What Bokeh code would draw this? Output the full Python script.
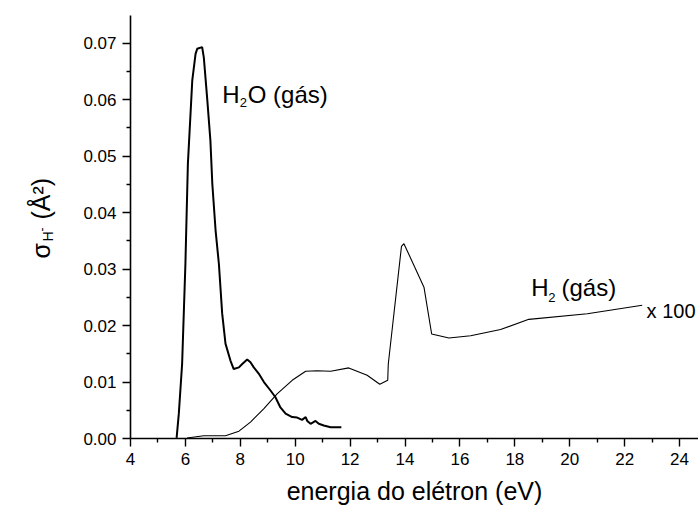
from bokeh.plotting import figure
from bokeh.layouts import row
from bokeh.models import Range1d, Label, PrintfTickFormatter, FixedTicker
from bokeh.embed import file_html
from bokeh.resources import INLINE
import math

# H2O (gas) cross-section curve
h2o_energy = [5.68, 5.76, 5.88, 6.00, 6.09, 6.25, 6.37, 6.43, 6.61, 6.67, 6.79, 6.91,
              6.98, 7.10, 7.22, 7.34, 7.46, 7.64, 7.76, 7.95, 8.07, 8.25, 8.37, 8.49,
              8.67, 8.86, 9.10, 9.28, 9.46, 9.65, 9.89, 10.07, 10.25, 10.38, 10.44,
              10.56, 10.74, 10.86, 11.04, 11.29, 11.68]
h2o_sigma = [0.0001, 0.0044, 0.0132, 0.0309, 0.0486, 0.0634, 0.0681, 0.0690, 0.0693,
             0.0675, 0.0604, 0.0528, 0.0451, 0.0368, 0.0309, 0.0221, 0.0168, 0.0138,
             0.0123, 0.0126, 0.0132, 0.0140, 0.0135, 0.0126, 0.0115, 0.0100, 0.0085,
             0.0073, 0.0055, 0.0044, 0.0038, 0.0037, 0.0033, 0.0038, 0.0031, 0.0026,
             0.0031, 0.0026, 0.0023, 0.0020, 0.0020]

# H2 (gas) cross-section curve (x 100)
h2_energy = [6.06, 6.67, 7.03, 7.46, 7.95, 8.37, 8.86, 9.34, 9.89, 10.38, 10.80, 11.29,
             11.95, 12.62, 13.08, 13.37, 13.39, 13.87, 13.96, 14.69, 14.97, 15.60,
             16.39, 17.48, 18.51, 20.64, 22.64]
h2_sigma = [0.0001, 0.0005, 0.0005, 0.0005, 0.0013, 0.0029, 0.0053, 0.0079, 0.0103,
            0.0119, 0.0120, 0.0119, 0.0125, 0.0112, 0.0096, 0.0103, 0.0132, 0.0340,
            0.0345, 0.0268, 0.0185, 0.0178, 0.0182, 0.0193, 0.0211, 0.0221, 0.0236]

x_ticks = [4, 6, 8, 10, 12, 14, 16, 18, 20, 22, 24]
y_ticks = [0.00, 0.01, 0.02, 0.03, 0.04, 0.05, 0.06, 0.07]

FONT = "Liberation Sans"
W, H = 698, 510
SIDE_W = 60                      # narrow panel that holds the rotated y title
X0, X1, Y0, Y1 = 4, 24.69, 0, 0.0749
FRAME_L, FRAME_T, FRAME_B = 130, 15, 438

# --- side panel for the y-axis title -------------------------------------
# (its frame is aligned with the main frame by the row layout: rows FRAME_T..FRAME_B)
side = figure(width=SIDE_W, height=H, output_backend="svg", toolbar_location=None,
              x_range=Range1d(0, SIDE_W), y_range=Range1d(H - FRAME_B, H - FRAME_T),
              x_axis_location=None, y_axis_location=None, title=None,
              min_border=0, min_border_left=0, min_border_right=0,
              min_border_top=0, min_border_bottom=0)
side.outline_line_color = None
side.xgrid.visible = False
side.ygrid.visible = False


def side_lab(px, py, text, size):
    side.add_layout(Label(x=px, y=H - py, text=text, text_font=FONT,
                          text_font_size=size, text_color="black",
                          text_baseline="alphabetic", text_align="left",
                          angle=math.pi / 2))

side_lab(40, 258, "σ", "25px")
side_lab(47, 241, "H", "14px")
side_lab(41, 231, "-", "12px")
side_lab(40, 219, "(Å²)", "25px")

# --- main plot --------------------------------------------------------------
p = figure(width=W - SIDE_W, height=H, output_backend="svg", toolbar_location=None,
           x_range=Range1d(X0, X1), y_range=Range1d(Y0, Y1),
           min_border_left=FRAME_L - SIDE_W, min_border_right=0,
           min_border_top=FRAME_T, min_border_bottom=H - FRAME_B)
p.outline_line_color = None
p.xgrid.visible = False
p.ygrid.visible = False

p.line(h2o_energy, h2o_sigma, line_color="black", line_width=2)
p.line(h2_energy, h2_sigma, line_color="black", line_width=1.1)

for ax in (p.xaxis[0], p.yaxis[0]):
    ax.axis_line_color = "black"
    ax.axis_line_width = 1.6
    ax.major_tick_line_color = "black"
    ax.minor_tick_line_color = "black"
    ax.major_tick_line_width = 1.4
    ax.minor_tick_line_width = 1.4
    ax.major_tick_in = 0
    ax.minor_tick_in = 0
    ax.major_tick_out = 8
    ax.minor_tick_out = 4
    ax.major_label_text_font = FONT
    ax.major_label_text_font_size = "17px"
    ax.major_label_text_color = "black"

p.xaxis.ticker = FixedTicker(ticks=x_ticks, minor_ticks=[v + 1 for v in x_ticks])
p.yaxis.ticker = FixedTicker(ticks=y_ticks, minor_ticks=[v + 0.005 for v in y_ticks])
p.yaxis.formatter = PrintfTickFormatter(format="%.2f")
p.xaxis.major_label_standoff = 6
p.yaxis.major_label_standoff = 6

p.xaxis.axis_label = "energia do elétron (eV)"
p.xaxis.axis_label_text_font = FONT
p.xaxis.axis_label_text_font_size = "25px"
p.xaxis.axis_label_text_font_style = "normal"
p.xaxis.axis_label_text_color = "black"
p.xaxis.axis_label_standoff = 9


def lab(x, y, text, size):
    p.add_layout(Label(x=x, y=y, text=text,
                       text_font=FONT, text_font_size=size, text_color="black",
                       text_baseline="alphabetic", text_align="left"))

# H2O (gás)
lab(7.34, 0.0610, "H", "24px")
lab(7.98, 0.05955, "2", "13px")
lab(8.27, 0.0610, "O (gás)", "24px")
# H2 (gás)
lab(18.60, 0.0268, "H", "24px")
lab(19.22, 0.02505, "2", "13px")
lab(19.70, 0.0268, "(gás)", "24px")
# x 100
lab(22.80, 0.02254, "x 100", "20px")

layout = row(side, p, spacing=0)
open("out.html", "w").write(file_html(layout, INLINE))
